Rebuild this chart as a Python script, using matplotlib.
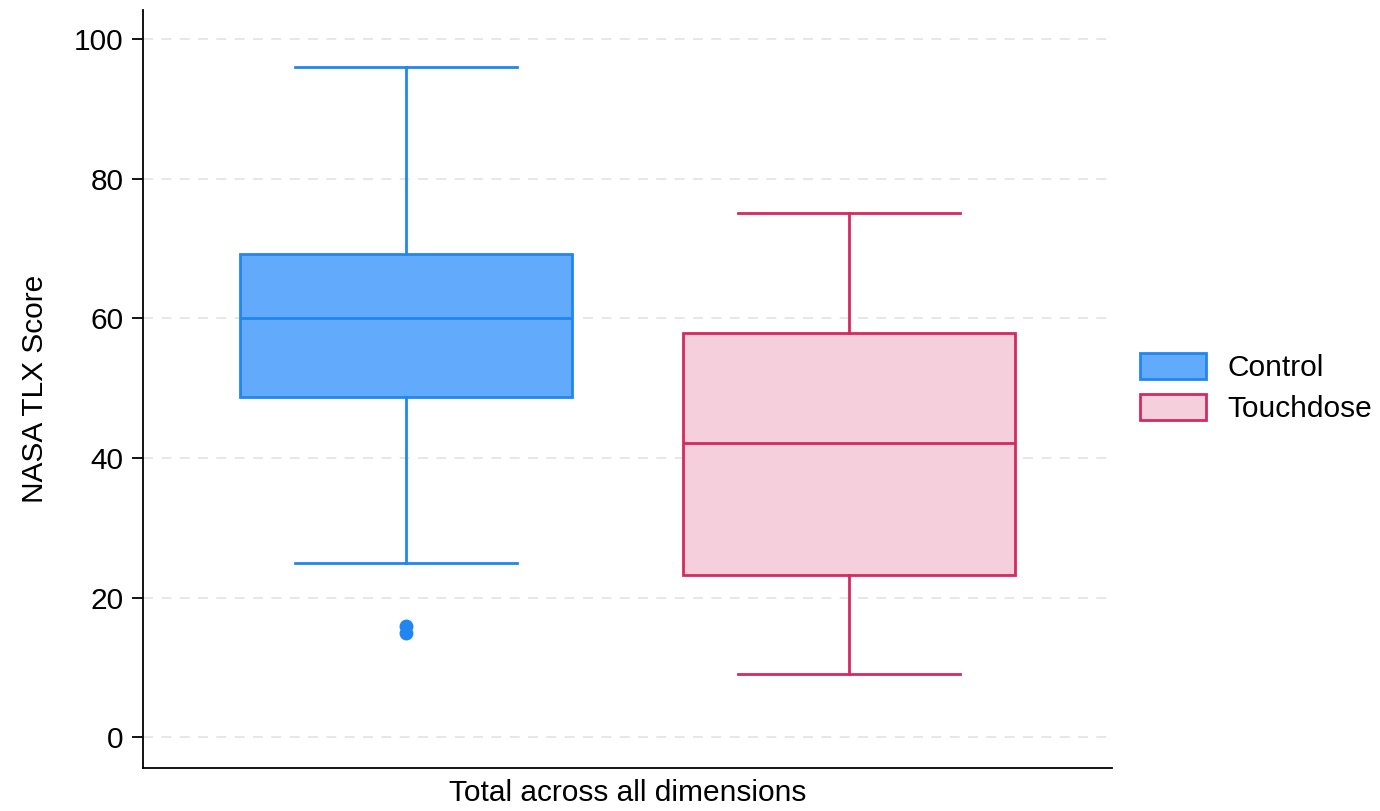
import matplotlib
matplotlib.use("Agg")
import matplotlib.pyplot as plt
from matplotlib.patches import Patch

plt.rcParams['font.family'] = ['Liberation Sans', 'DejaVu Sans']

groups = ['Control', 'Touchdose']
whislo = [24.9, 9.0]
q1 = [48.7, 23.2]
med = [60.0, 42.1]
q3 = [69.3, 57.9]
whishi = [96.0, 75.1]
fliers = [[15.9, 15.0], []]

fills = ['#62aafc', '#f6cfdd']
edges = ['#2186f2', '#d42a5f']

stats = []
for i, g in enumerate(groups):
    stats.append(dict(label=g, whislo=whislo[i], q1=q1[i], med=med[i],
                      q3=q3[i], whishi=whishi[i], fliers=fliers[i]))

fig = plt.figure(figsize=(13.8, 8.11), dpi=100)
ax = fig.add_axes([0.1036, 0.053, 0.7022, 0.9347])

for i, s in enumerate(stats):
    ax.bxp([s], positions=[i + 1], widths=0.75, capwidths=0.5,
           patch_artist=True, showfliers=True,
           boxprops=dict(facecolor=fills[i], edgecolor=edges[i], linewidth=2),
           medianprops=dict(color=edges[i], linewidth=2),
           whiskerprops=dict(color=edges[i], linewidth=2),
           capprops=dict(color=edges[i], linewidth=2),
           flierprops=dict(marker='o', markerfacecolor=edges[i],
                           markeredgecolor=edges[i], markersize=9))

ax.set_xlim(0.406, 2.594)
ax.set_ylim(-4.4, 104.2)
ax.set_yticks([0, 20, 40, 60, 80, 100])
ax.set_xticks([])
ax.yaxis.grid(True, color='#e3e3e3', linestyle=(0, (6, 5)), linewidth=1.2)
ax.set_axisbelow(True)
for side in ['top', 'right']:
    ax.spines[side].set_visible(False)
ax.spines['left'].set_linewidth(1.3)
ax.spines['bottom'].set_linewidth(1.3)
ax.tick_params(axis='y', labelsize=21.5, length=8, width=1.3, pad=6)
ax.set_ylabel('NASA TLX Score', fontsize=21.5, labelpad=18)
ax.set_xlabel('Total across all dimensions', fontsize=21.5, labelpad=8)

handles = [Patch(facecolor=fills[i], edgecolor=edges[i], linewidth=2, label=g)
           for i, g in enumerate(groups)]
ax.legend(handles=handles, loc='center left', bbox_to_anchor=(1.0015, 0.501),
          frameon=False, fontsize=21.5, handlelength=2.2, handleheight=0.94,
          handletextpad=0.73, labelspacing=0.4)

fig.savefig('out.png', dpi=100)
